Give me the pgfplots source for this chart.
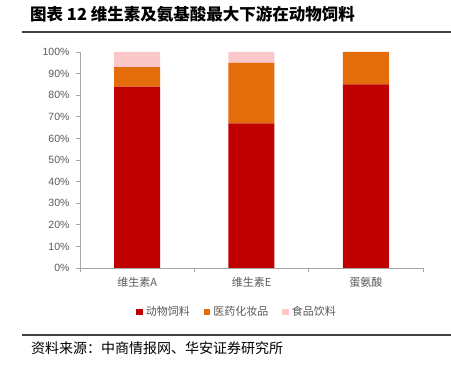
\documentclass[border=0pt]{standalone}
\usepackage{fontspec}
\setmainfont{Liberation Sans}
\newfontfamily\cjk{Noto Sans CJK SC}
\usepackage{pgfplots}
\pgfplotsset{compat=1.18}
\definecolor{cRed}{HTML}{C00000}
\definecolor{cOrange}{HTML}{E46C0A}
\definecolor{cPink}{HTML}{FAC8C8}
\definecolor{cGray}{HTML}{A6A6A6}
\definecolor{cText}{HTML}{595959}
\begin{document}
\begin{tikzpicture}
\path[use as bounding box] (0pt,0pt) rectangle (451pt,367pt);
\node[anchor=base west,inner sep=0pt,font=\cjk\bfseries\fontsize{16.5}{16.5}\selectfont] at (30pt,346pt) {图表 12 维生素及氨基酸最大下游在动物饲料};
\draw[line width=1.4pt,color=black!75] (22pt,335pt) -- (451pt,335pt);
\draw[line width=1.4pt,color=black!75] (22pt,32pt) -- (451pt,32pt);
\node[anchor=base west,inner sep=0pt,font=\cjk\fontsize{14}{14}\selectfont] at (31pt,13pt) {资料来源：中商情报网、华安证券研究所};
\begin{axis}[
  at={(80pt,99pt)}, anchor=south west,
  scale only axis, width=343pt, height=216pt,
  xmin=-0.5, xmax=2.5, ymin=0, ymax=100,
  ybar stacked, bar width=46pt,
  axis x line*=bottom, axis y line*=left,
  axis line style={cGray, line width=0.8pt, -},
  xtick={0,1,2},
  xticklabels={维生素A,维生素E,蛋氨酸},
  major x tick style={draw=none},
  minor xtick={-0.5,0.5,1.5,2.5},
  minor tick length=4pt,
  minor x tick style={cGray, line width=0.8pt},
  ytick={0,10,...,100},
  yticklabel={\pgfmathprintnumber{\tick}\%},
  /pgf/number format/assume math mode=true,
  major tick length=4pt,
  tick align=outside,
  y tick style={cGray, line width=0.8pt},
  x tick label style={font=\cjk\fontsize{11}{11}\selectfont, text=cText, yshift=-2pt},
  y tick label style={font=\fontsize{10.5}{10.5}\selectfont, text=cText, xshift=-3pt},
  legend columns=3,
  legend style={draw=none, at={(0.458,-0.204)}, anchor=center,
    font=\cjk\fontsize{11}{11}\selectfont, text=cText,
    /tikz/every odd column/.append style={column sep=1pt},
    /tikz/every even column/.append style={column sep=12pt}},
  legend image code/.code={\fill[#1] (0pt,-3pt) rectangle (6.5pt,3.5pt);},
]
\addplot[fill=cRed, draw=none] coordinates {(0,84) (1,67) (2,85)};
\addplot[fill=cOrange, draw=none] coordinates {(0,9) (1,28) (2,15)};
\addplot[fill=cPink, draw=none] coordinates {(0,7) (1,5) (2,0)};
\legend{动物饲料,医药化妆品,食品饮料}
\end{axis}
\end{tikzpicture}
\end{document}
